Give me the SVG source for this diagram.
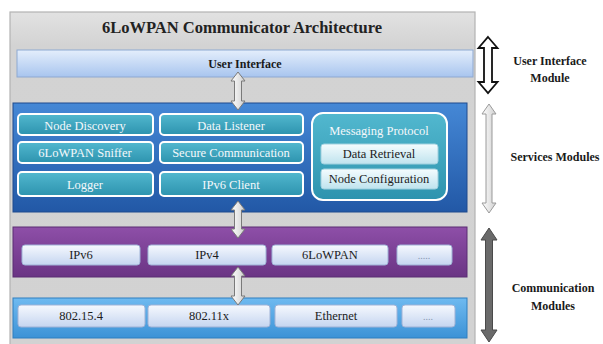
<svg xmlns="http://www.w3.org/2000/svg" width="603" height="344" viewBox="0 0 603 344">
<defs>
<linearGradient id="gUI" x1="0" y1="0" x2="0" y2="1"><stop offset="0" stop-color="#e4eefc"/><stop offset="1" stop-color="#a8c5ee"/></linearGradient>
<linearGradient id="gSvc" x1="0" y1="0" x2="0" y2="1"><stop offset="0" stop-color="#4588d6"/><stop offset="1" stop-color="#2258a6"/></linearGradient>
<linearGradient id="gTeal" x1="0" y1="0" x2="0" y2="1"><stop offset="0" stop-color="#52b8cf"/><stop offset="1" stop-color="#2d93ae"/></linearGradient>
<linearGradient id="gSub" x1="0" y1="0" x2="0" y2="1"><stop offset="0" stop-color="#f4fcfe"/><stop offset="1" stop-color="#bfe3ee"/></linearGradient>
<linearGradient id="gPur" x1="0" y1="0" x2="0" y2="1"><stop offset="0" stop-color="#8e4fa8"/><stop offset="1" stop-color="#6a3484"/></linearGradient>
<linearGradient id="gBot" x1="0" y1="0" x2="0" y2="1"><stop offset="0" stop-color="#6fbaf0"/><stop offset="1" stop-color="#3c92d6"/></linearGradient>
<linearGradient id="gLt" x1="0" y1="0" x2="0" y2="1"><stop offset="0" stop-color="#f6f9fe"/><stop offset="1" stop-color="#c5d5f0"/></linearGradient>
<linearGradient id="gArr" x1="0" y1="0" x2="1" y2="0"><stop offset="0" stop-color="#ffffff"/><stop offset="1" stop-color="#cfcfcf"/></linearGradient>
<linearGradient id="gBg" x1="0" y1="0" x2="0" y2="1"><stop offset="0" stop-color="#e2e2e2"/><stop offset="0.1" stop-color="#d3d3d3"/><stop offset="1" stop-color="#d2d2d2"/></linearGradient>
</defs>
<style>
text{font-family:"Liberation Serif","Times New Roman",serif;text-anchor:middle}
.t{font-size:16.5px;font-weight:bold;fill:#222}
.b{font-size:12px;font-weight:bold;fill:#1a1a1a}
.w{font-size:12.5px;fill:#f4f8fb}
.d{font-size:12.5px;fill:#1c1c1c}
.teal{fill:url(#gTeal);stroke:#ffffff;stroke-width:2}
.sub{fill:url(#gSub);stroke:#9fd0de;stroke-width:1}
.lt{fill:url(#gLt);stroke:#9fb2d6;stroke-width:1}
.arr{fill:url(#gArr);stroke:#7a7a7a;stroke-width:1}
</style>
<rect width="603" height="344" fill="#ffffff"/>
<g id="frame">
<rect x="10" y="12" width="465" height="340" fill="url(#gBg)" stroke="#b3b3b3" stroke-width="1.2"/>
<text class="t" x="242" y="33">6LoWPAN Communicator Architecture</text>
</g>
<g id="user-interface">
<rect x="17" y="50" width="456" height="27" fill="url(#gUI)" stroke="#8ea9d2" stroke-width="1"/>
<text class="b" x="245" y="68">User Interface</text>
</g>
<g id="services">
<rect x="13" y="103" width="454" height="109" fill="url(#gSvc)" stroke="#1e4b8e" stroke-width="1"/>
</g>
<g id="node-discovery"><rect class="teal" x="18" y="114" width="135" height="21" rx="4"/><text class="w" x="85" y="130">Node Discovery</text></g>
<g id="data-listener"><rect class="teal" x="160" y="114" width="143" height="21" rx="4"/><text class="w" x="231" y="130">Data Listener</text></g>
<g id="sniffer"><rect class="teal" x="18" y="142" width="135" height="21" rx="4"/><text class="w" x="85" y="157">6LoWPAN Sniffer</text></g>
<g id="secure-comm"><rect class="teal" x="160" y="142" width="143" height="21" rx="4"/><text class="w" x="231" y="157">Secure Communication</text></g>
<g id="logger"><rect class="teal" x="18" y="172" width="135" height="24" rx="4"/><text class="w" x="85" y="189">Logger</text></g>
<g id="ipv6-client"><rect class="teal" x="160" y="172" width="143" height="24" rx="4"/><text class="w" x="231" y="189">IPv6 Client</text></g>
<g id="messaging-protocol">
<rect class="teal" x="312" y="113" width="135" height="87" rx="11"/>
<text class="w" x="379" y="135">Messaging Protocol</text>
</g>
<g id="data-retrieval"><rect class="sub" x="321" y="144" width="117" height="20" rx="3"/><text class="d" x="379" y="158">Data Retrieval</text></g>
<g id="node-config"><rect class="sub" x="321" y="169" width="117" height="20" rx="3"/><text class="d" x="379" y="183">Node Configuration</text></g>
<g id="network-layer">
<rect x="13" y="227" width="454" height="50" fill="url(#gPur)" stroke="#5b2c72" stroke-width="1"/>
</g>
<g id="ipv6"><rect class="lt" x="22" y="245" width="118" height="20" rx="3"/><text class="d" x="81" y="259">IPv6</text></g>
<g id="ipv4"><rect class="lt" x="148" y="245" width="118" height="20" rx="3"/><text class="d" x="207" y="259">IPv4</text></g>
<g id="6lowpan"><rect class="lt" x="272" y="245" width="116" height="20" rx="3"/><text class="d" x="330" y="259">6LoWPAN</text></g>
<g id="net-more"><rect class="lt" x="397" y="245" width="55" height="20" rx="3"/><text class="d" x="424" y="259" style="fill:#8a96b0;font-size:10px">.....</text></g>
<g id="link-layer">
<rect x="13" y="298" width="454" height="40" fill="url(#gBot)" stroke="#2f7fc0" stroke-width="1"/>
</g>
<g id="802-15-4"><rect class="lt" x="18" y="305" width="127" height="22" rx="3"/><text class="d" x="81" y="320">802.15.4</text></g>
<g id="802-11x"><rect class="lt" x="148" y="305" width="122" height="22" rx="3"/><text class="d" x="209" y="320">802.11x</text></g>
<g id="ethernet"><rect class="lt" x="275" y="305" width="122" height="22" rx="3"/><text class="d" x="336" y="320">Ethernet</text></g>
<g id="link-more"><rect class="lt" x="402" y="305" width="53" height="22" rx="3"/><text class="d" x="428" y="320" style="fill:#8a96b0;font-size:10px">....</text></g>
<g id="connectors">
<path class="arr" d="M238,72 L245,81 L241.5,81 L241.5,101 L245,101 L238,110 L231,101 L234.5,101 L234.5,81 L231,81 Z"/>
<path class="arr" d="M238,201 L245,210 L241.5,210 L241.5,229 L245,229 L238,238 L231,229 L234.5,229 L234.5,210 L231,210 Z"/>
<path class="arr" d="M238,267 L245,276 L241.5,276 L241.5,296 L245,296 L238,305 L231,296 L234.5,296 L234.5,276 L231,276 Z"/>
<path d="M488,37 L497.5,48 L492,48 L492,82 L497.5,82 L488,93 L478.5,82 L484,82 L484,48 L478.5,48 Z" fill="#ffffff" stroke="#111111" stroke-width="1.8"/>
<path d="M489,104 L496,114 L492,114 L492,203 L496,203 L489,213 L482,203 L486,203 L486,114 L482,114 Z" fill="url(#gArr)" stroke="#9a9a9a" stroke-width="1"/>
<path d="M489,228 L497,240 L492.5,240 L492.5,330 L497,330 L489,342 L481,330 L485.5,330 L485.5,240 L481,240 Z" fill="#6a6a6a" stroke="#4a4a4a" stroke-width="1"/>
</g>
<g id="labels">
<text class="b" x="550" y="65">User Interface</text>
<text class="b" x="550" y="82">Module</text>
<text class="b" x="555" y="161">Services Modules</text>
<text class="b" x="553" y="292">Communication</text>
<text class="b" x="553" y="310">Modules</text>
</g>
</svg>
